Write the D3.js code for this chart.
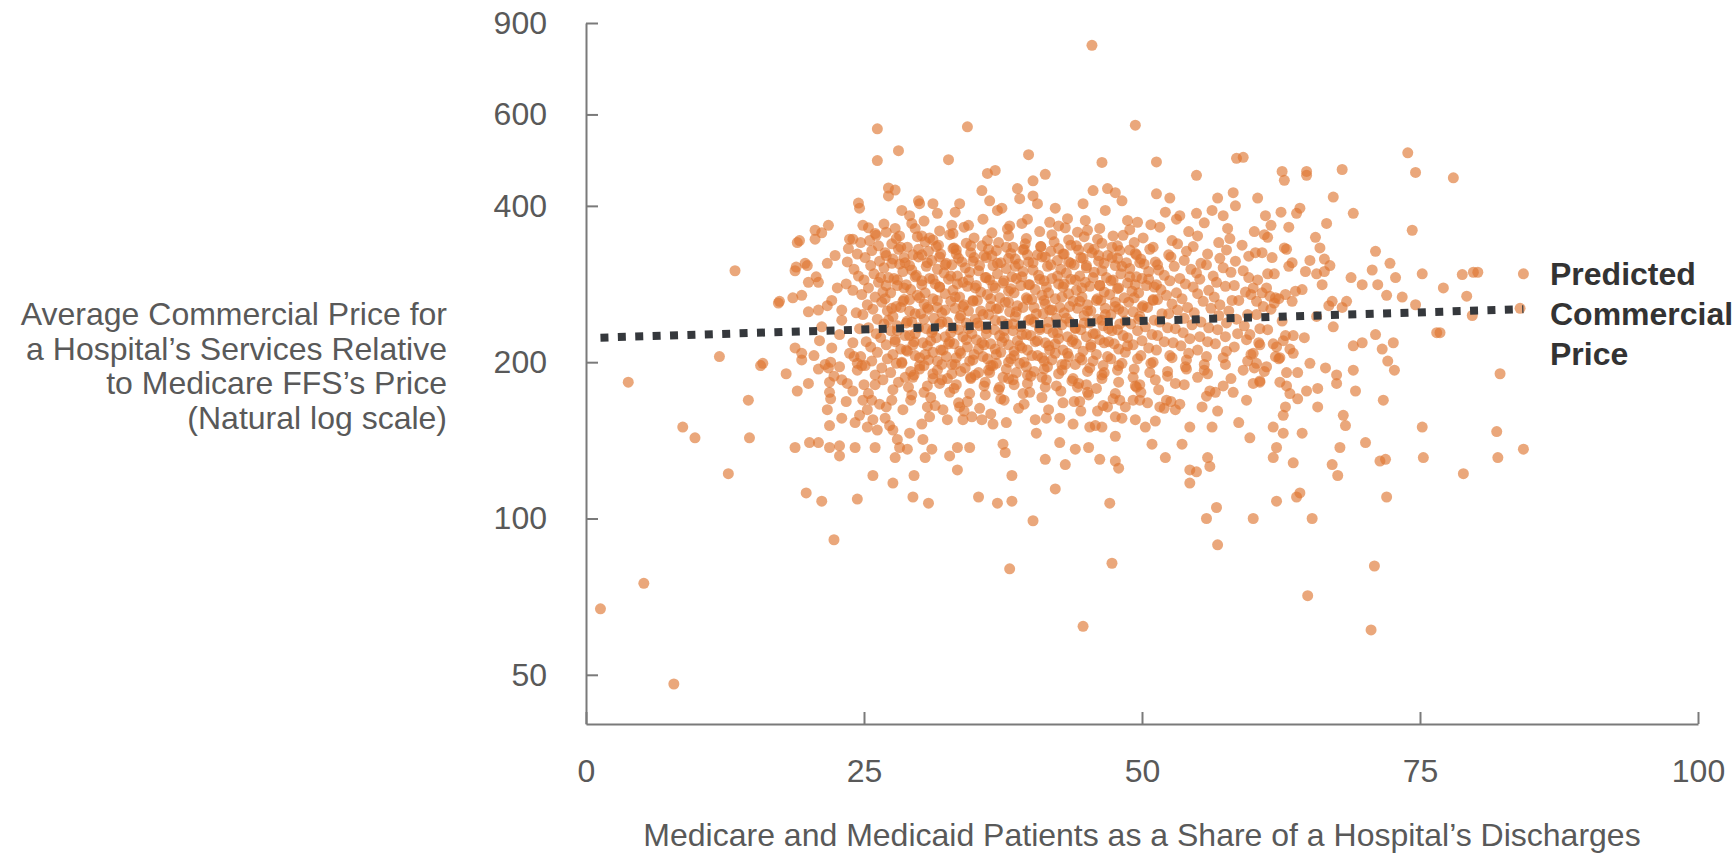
<!DOCTYPE html>
<html><head><meta charset="utf-8">
<script src="https://cdn.jsdelivr.net/npm/d3@7"></script>
<style>
html,body{margin:0;padding:0;background:#fff;}
svg{display:block;}
text{font-family:"Liberation Sans",Arial,Helvetica,sans-serif;}
</style></head><body>
<svg id="chart" width="1734" height="855"></svg>
<script>
// ---- tick labels & text ----
const xTicks = [0, 25, 50, 75, 100];
const yTicks = [50, 100, 200, 400, 600, 900];
const yTitleLines = ["Average Commercial Price for", "a Hospital\u2019s Services Relative", "to Medicare FFS\u2019s Price", "(Natural log scale)"];
const xTitle = "Medicare and Medicaid Patients as a Share of a Hospital\u2019s Discharges";
const trendLabel = ["Predicted", "Commercial", "Price"];
// ---- predicted (fitted) line endpoints: share, price ----
const trendShare = [1.3, 84.3];
const trendPrice = [223, 253];

// ---- hospitals: [share of discharges, price relative to Medicare] ----
const hospitalsTop = [
[45.5,815],[26.2,563],[34.3,568],[49.4,572],[28.1,511],[26.2,489],[32.6,491],[36.1,462],[36.8,468],[35.6,428],[39.8,502],[46.4,485],[51.3,486],[58.5,494],[41.3,460],[40.2,447],[54.9,458],[59.1,496],[73.9,506],[74.6,464],[78.0,453],[68.0,470],[64.8,466],[64.8,458],[62.6,466],[62.8,448],
[27.2,433],[27.8,429],[27.2,418],[24.5,405],[24.6,396],[29.9,409],[30.0,404],[31.2,404],[31.6,387],[33.6,404],[33.2,389],[36.3,409],[37.0,392],[28.4,392],[29.1,383],[29.3,370],[24.9,367],[21.8,367],[21.2,355],[20.6,345],[19.0,340],[26.0,354],[25.5,343],[27.8,362],[28.2,350],[30.2,350],[30.9,347],[33.0,354],[34.4,367],[23.7,345],[23.6,331],[19.9,307],[18.8,300],[22.4,321],[21.7,310],[20.0,285],[20.9,285],[19.4,269],[17.3,260],[22.6,278],[22.1,263],[23.0,252],[20.9,252],
[38.8,432],[39.0,413],[40.2,418],[40.6,404],[45.6,428],[46.9,432],[47.6,424],[48.2,409],[51.3,422],[52.5,414],[56.8,414],[58.2,424],[37.4,396],[42.2,396],[44.7,404],[46.7,392],[52.1,389],[53.4,383],[54.9,387],[56.3,392],[57.3,383],[58.4,400],[48.7,375],[49.6,372],[43.3,378],[41.7,372],[39.7,377],[38.1,366],[45.1,359],[46.2,362],[47.4,350]
];
const hospitalsRight = [
[60.4,414],[67.2,416],[69.0,387],[64.2,396],[63.9,387],[62.5,389],[61.1,383],[61.6,367],[63.2,364],[66.6,370],[60.1,357],[74.3,359],[65.6,348],[66.0,332],[61.3,348],[71.0,327],[63.0,330],[60.8,325],[59.6,320],[63.5,311],[65.1,314],[66.4,316],[66.9,307],[72.3,310],[70.7,301],[75.2,296],[72.8,291],[78.8,295],[79.8,298],[64.7,299],[65.7,296],[66.4,299],[61.3,296],[61.9,296],[68.8,291],[69.8,282],[71.2,282],[72.0,269],[73.4,267],[77.1,278],[79.2,268],[67.1,262],[68.4,262],[74.6,258],[66.2,282],[64.4,276],
[60.8,272],[61.5,268],[62.3,265],[60.3,262],[61.9,260],[62.9,270],[60.0,278],[63.5,262],
[80.2,298],[84.3,296],[79.7,246],[84.0,254],[76.8,228],[82.2,190],[81.9,147],[84.3,136],[78.9,122],[82.0,131],
[76.5,228],[71.0,226],[72.6,218],[71.6,212],[69.0,215],[69.8,218],[72.1,201],[72.7,193],[69.0,193],[69.2,176],[71.7,169],[67.5,189],[67.5,182],[66.5,195],[65.1,199],[65.8,178],[64.8,176],[64.0,170],[63.3,174],[64.0,191],[65.8,164],[62.9,164],[62.7,158],[61.8,150],[62.7,146],[64.4,146],[68.1,158],[68.3,151],[59.7,143],[62.1,137],[61.8,131],[63.6,128],[67.8,137],[70.1,140],[75.2,150],[75.3,131],[71.4,129],[71.9,130],[67.1,127],[67.6,121],[63.9,110],[64.2,112],[62.1,108],[72.0,110],[60.0,100],[65.3,100],
[59.1,193],[60.0,182],[59.4,169],[60.6,183],[62.4,183],[63.0,180],[60.3,199],[61.2,196],[62.4,204],[63.6,208],[62.7,220],[63.6,225],[62.1,214],[60.6,216],[59.7,226],[60.0,208]
];
const hospitalsLow = [
[40.5,146],[42.6,140],[44.0,136],[45.2,137],[46.2,130],[47.6,129],[47.9,125],[41.3,130],[43.1,127],[42.6,156],[43.8,152],[45.3,150],[46.4,150],[47.6,144],[50.9,139],[52.1,131],[53.6,139],[56.3,150],[54.3,150],[54.3,124],[54.9,123],[54.3,117],[55.9,131],[56.1,126],[42.2,114],[38.3,121],[38.3,108],[40.2,99],[47.1,107],[56.7,105],[55.8,100],[37.7,134],[37.5,139],[49.4,155],[50.3,150],[51.2,154],[44.2,179],[45.1,175],[44.4,168],[46.0,161],[46.9,164],[48.0,169],[48.5,164],[49.8,181],[49.8,169],[50.5,167],[51.6,164],[52.2,169],[53.4,166],[55.4,164],[56.8,161],[58.2,175],[56.1,176],
[15.9,199],[18.0,190],[19.0,176],[18.8,213],[19.4,202],[20.9,194],[21.8,195],[22.8,196],[22.1,213],[21.9,183],[23.0,185],[23.5,182],[21.9,175],[21.7,162],[21.9,151],[23.0,156],[23.7,208],[24.4,199],[24.8,197],[24.9,169],[25.3,162],[25.7,169],[26.4,166],[24.2,153],[25.3,150],[25.8,155],[26.2,148],[27.3,151],[27.6,148],[18.8,137],[20.1,140],[20.9,140],[21.9,137],[22.8,138],[22.8,132],[24.2,137],[26.0,137],[28.0,142],[28.2,137],[28.9,136],[29.1,146],[27.8,131],[30.3,142],[31.1,136],[30.5,131],[25.8,121],[27.6,117],[29.5,121],[29.4,110],[30.8,107],[19.8,112],[21.2,108],[24.4,109],[33.4,137],[34.5,137],[32.7,132],[33.4,124],[35.3,110],[37.0,107],[32.1,162],[33.6,164],[32.5,155],[33.9,155],[35.6,155],[36.6,152],[30.7,164]
];
const hospitalsOuter = [
[22.3,91],[38.1,80],[47.3,82],[56.8,89],[44.7,62],[64.9,71],[70.9,81],[70.6,61],
[12.0,205],[15.7,197],[3.8,183],[14.6,169],[8.7,150],[9.8,143],[14.7,143],[12.8,122],[5.2,75],[1.3,67],[7.9,48],[13.4,300],
[17.4,262],[19.2,343],[20.6,359],[18.9,305],[19.7,310],[19.4,208]
];
const hospitalsCore = [
[26.8,369],[30.4,374],[32.9,367],[35.7,377],[39.2,370],[42.5,366],[44.9,375],[50.8,368],[53.1,377],[55.6,371],
[25.4,363],[27.0,356],[29.6,362],[31.8,358],[34.0,364],[36.5,355],[37.9,361],[40.8,357],[43.1,363],[44.2,356],[48.9,360],[51.6,364],[54.2,357],[57.7,362],
[24.0,345],[26.1,351],[27.9,346],[29.8,349],[31.2,344],[32.7,352],[34.9,347],[36.1,343],[38.0,350],[39.6,346],[41.9,352],[43.4,344],[44.8,349],[46.0,345],[48.3,351],[50.1,347],[52.7,343],[55.0,350],[57.9,346],[61.0,352],
[24.7,340],[26.3,335],[27.5,338],[28.9,333],[30.5,341],[31.7,336],[33.1,332],[34.2,339],[35.6,335],[37.1,340],[38.4,333],[39.5,338],[40.9,334],[42.1,341],[43.6,336],[45.2,332],[46.4,339],[47.8,335],[49.3,340],[51.0,333],[53.2,338],[54.6,334],[56.9,340],[59.0,336],[62.8,332],
[24.4,323],[25.7,328],[26.9,325],[28.1,330],[29.4,322],[30.8,327],[31.9,323],[33.3,329],[34.6,325],[35.8,321],[36.9,328],[38.2,324],[39.4,330],[40.6,322],[41.8,327],[43.0,323],[44.3,329],[45.5,325],[46.9,321],[48.0,328],[49.4,324],[50.7,330],[52.4,322],[54.0,327],[55.9,323],[57.6,329],[60.2,325],
[23.5,312],[25.1,318],[26.4,313],[27.6,316],[28.7,311],[29.9,319],[31.1,314],[32.4,310],[33.5,317],[34.8,313],[36.0,318],[37.3,311],[38.6,316],[39.8,312],[41.0,319],[42.4,314],[43.6,310],[44.7,317],[46.1,313],[47.3,318],[48.6,311],[49.9,316],[51.2,312],[52.6,319],[53.8,314],[55.3,310],[57.0,317],[58.4,313],[61.7,318],
[24.1,302],[25.6,307],[26.8,304],[28.2,309],[29.3,301],[30.6,306],[31.6,302],[32.9,308],[34.1,304],[35.3,300],[36.6,307],[37.8,303],[38.9,309],[40.2,301],[41.5,306],[42.7,302],[43.9,308],[45.0,304],[46.4,300],[47.6,307],[48.9,303],[50.2,309],[51.5,301],[52.9,306],[54.4,302],[55.8,308],[57.3,304],[59.1,300],[63.2,306],
[20.7,292],[24.5,293],[25.9,296],[27.2,291],[28.5,299],[29.7,294],[30.9,290],[32.2,297],[33.4,293],[34.5,298],[35.9,291],[37.0,296],[38.3,292],[39.3,299],[40.7,294],[41.9,290],[43.2,297],[44.4,293],[45.7,298],[46.8,291],[48.1,296],[49.5,292],[50.6,299],[52.0,294],[53.4,290],[54.9,297],[56.4,293],[58.0,298],[59.6,291],
[23.4,283],[25.0,288],[26.3,285],[27.7,290],[28.8,282],[30.2,287],[31.4,283],[32.6,289],[33.9,285],[35.1,281],[36.3,288],[37.5,284],[38.7,290],[39.9,282],[41.2,287],[42.5,283],[43.6,289],[44.9,285],[46.2,281],[47.4,288],[48.7,284],[50.0,290],[51.3,282],[52.5,287],[53.9,283],[55.2,289],[56.7,285],[58.3,281],[60.4,288],
[24.0,275],[25.4,278],[26.7,273],[28.0,281],[29.2,276],[30.5,272],[31.8,279],[33.0,275],[34.3,280],[35.5,273],[36.8,278],[38.0,274],[39.1,281],[40.4,276],[41.6,272],[42.9,279],[44.1,275],[45.3,280],[46.6,273],[47.9,278],[49.1,274],[50.4,281],[51.7,276],[53.1,272],[54.6,279],[56.0,275],[57.5,280],[59.3,273],[61.2,278],[63.8,274],
[18.6,266],[24.8,270],[26.0,267],[27.4,272],[28.6,264],[29.8,269],[31.2,265],[32.3,271],[33.6,267],[34.8,263],[36.1,270],[37.2,266],[38.5,272],[39.7,264],[41.0,269],[42.2,265],[43.4,271],[44.6,267],[45.9,263],[47.1,270],[48.4,266],[49.7,272],[51.0,264],[52.2,269],[53.6,265],[55.0,271],[56.5,267],[58.1,263],[59.8,270],[62.0,266],
[21.7,257],[25.3,258],[26.6,261],[27.9,256],[29.1,264],[30.4,259],[31.6,255],[32.8,262],[34.0,258],[35.2,263],[36.4,256],[37.7,261],[38.8,257],[40.1,264],[41.3,259],[42.6,255],[43.8,262],[45.1,258],[46.3,263],[47.6,256],[48.8,261],[50.1,257],[51.4,264],[52.7,259],[54.1,255],[55.5,262],[57.0,258],[58.7,263],[60.9,256],[66.8,257],
[20.0,250],[24.3,249],[25.8,253],[27.1,251],[28.3,255],[29.6,248],[30.8,253],[32.0,249],[33.2,254],[34.4,251],[35.7,247],[36.9,253],[38.1,250],[39.3,255],[40.5,248],[41.7,252],[43.0,249],[44.2,254],[45.4,251],[46.7,247],[47.9,253],[49.2,250],[50.5,255],[51.8,248],[53.2,252],[54.7,249],[56.2,254],[57.8,251],[59.5,247],[61.6,253],[68.0,255],
[23.0,241],[24.9,247],[26.2,242],[27.6,245],[28.9,240],[30.1,248],[31.3,243],[32.5,239],[33.7,246],[35.0,242],[36.2,247],[37.4,240],[38.6,245],[39.8,241],[41.1,248],[42.3,243],[43.5,239],[44.8,246],[46.0,242],[47.2,247],[48.5,240],[49.8,245],[51.1,241],[52.4,248],[53.8,243],[55.3,239],[56.9,246],[58.5,242],[60.3,247],[62.6,240],[65.7,245],
[21.2,234],[25.4,233],[26.8,237],[28.0,235],[29.3,239],[30.6,232],[31.8,237],[33.0,233],[34.2,238],[35.4,235],[36.7,231],[37.9,237],[39.1,234],[40.3,239],[41.5,232],[42.8,236],[44.0,233],[45.3,238],[46.5,235],[47.8,231],[49.0,237],[50.3,234],[51.6,239],[53.0,232],[54.5,236],[56.0,233],[57.6,238],[59.2,235],[61.3,231],[67.2,234],
[22.8,226],[24.6,232],[26.1,227],[27.4,230],[28.7,225],[29.9,233],[31.1,228],[32.3,224],[33.5,231],[34.7,227],[36.0,232],[37.2,225],[38.4,230],[39.6,226],[40.8,233],[42.0,228],[43.3,224],[44.5,231],[45.8,227],[47.0,232],[48.3,225],[49.6,230],[50.9,226],[52.3,233],[53.7,228],[55.2,224],[56.8,231],[58.6,227],[60.6,232],[62.9,225],
[21.0,220],[25.2,219],[26.5,223],[27.8,221],[29.1,225],[30.3,218],[31.5,223],[32.7,219],[33.9,224],[35.1,221],[36.4,217],[37.6,223],[38.8,220],[40.0,225],[41.3,218],[42.5,222],[43.7,219],[45.0,224],[46.2,221],[47.5,217],[48.7,223],[50.0,220],[51.4,225],[52.8,218],[54.3,222],[55.9,219],[57.5,224],[59.4,221],[61.8,217],[64.6,223],
[24.0,218],[25.6,214],[27.0,216],[28.3,212],[29.5,219],[30.7,215],[31.9,211],[33.1,217],[34.3,214],[35.6,218],[36.8,212],[38.0,216],[39.2,213],[40.4,219],[41.6,215],[42.9,211],[44.1,217],[45.4,214],[46.6,218],[47.9,212],[49.2,216],[50.6,213],[52.0,219],[53.5,215],[55.0,211],[56.6,217],[58.3,214],[60.5,218],[63.3,212],
[20.5,206],[24.7,205],[26.2,209],[27.6,207],[28.8,211],[30.0,204],[31.2,209],[32.4,205],[33.6,210],[34.9,207],[36.1,203],[37.3,209],[38.5,206],[39.7,211],[41.0,204],[42.2,208],[43.4,205],[44.7,210],[45.9,207],[47.2,203],[48.5,209],[49.9,206],[51.3,211],[52.7,204],[54.2,208],[55.8,205],[57.6,210],[59.8,207],[62.3,203],
[22.0,200],[24.1,205],[25.7,201],[27.1,203],[28.4,199],[29.6,206],[30.8,202],[32.0,198],[33.3,204],[34.5,201],[35.7,205],[36.9,199],[38.2,203],[39.4,200],[40.6,206],[41.9,202],[43.1,198],[44.4,204],[45.6,201],[46.9,205],[48.2,199],[49.6,203],[51.0,200],[52.5,206],[54.0,202],[55.6,198],[57.3,204],[59.5,201],[62.0,205],
[21.5,198],[25.1,197],[26.6,195],[27.9,199],[29.2,192],[30.4,197],[31.6,193],[32.9,198],[34.1,195],[35.3,191],[36.6,197],[37.8,194],[39.0,199],[40.3,192],[41.5,196],[42.8,193],[44.0,198],[45.3,195],[46.6,191],[47.9,197],[49.3,194],[50.8,199],[52.3,192],[53.9,196],[55.6,193],[57.5,198],[60.1,195],[63.0,191],
[22.3,188],[24.4,193],[26.0,189],[27.4,191],[28.7,187],[30.0,194],[31.2,190],[32.5,186],[33.7,192],[35.0,189],[36.2,193],[37.5,187],[38.7,191],[40.0,188],[41.2,194],[42.5,190],[43.8,186],[45.1,192],[46.4,189],[47.8,193],[49.2,187],[50.7,191],[52.3,188],[54.0,194],[55.9,190],[58.0,186],[61.0,192],
[20.0,182],[25.0,181],[26.7,185],[28.1,183],[29.4,187],[30.7,180],[32.0,185],[33.3,181],[34.6,186],[35.9,183],[37.2,179],[38.4,185],[39.7,182],[41.0,187],[42.3,180],[43.7,184],[45.0,181],[46.4,186],[47.9,183],[49.5,179],[51.2,185],[53.0,182],[55.0,187],[57.3,180],[60.6,184],
[24.0,176],[26.0,181],[27.6,177],[29.0,179],[30.4,175],[31.8,182],[33.1,178],[34.5,174],[35.8,180],[37.1,177],[38.5,181],[39.9,175],[41.3,179],[42.7,176],[44.3,182],[45.9,178],[47.6,174],[49.4,180],[51.5,177],[53.8,181],[56.6,175],
[22.0,170],[25.4,174],[27.5,169],[29.3,173],[31.0,171],[32.7,175],[34.3,168],[35.9,173],[37.6,169],[39.3,174],[41.0,171],[42.9,167],[45.2,173],[47.4,170],[49.9,175],[52.6,168],[55.8,172],
[23.4,168],[27.0,164],[29.2,169],[31.4,165],[33.5,167],[35.4,163],[37.3,170],[39.4,166],[41.6,162],[43.9,168],[46.5,165],[49.2,169],[52.0,163],
[24.6,158],[28.5,162],[30.9,157],[34.0,161],[36.4,159],[38.9,163],[41.4,156],[44.5,161],[47.6,157],[53.0,162],
[26.9,156],[30.2,152],[34.7,157],[37.8,153],[40.4,155],[45.8,151],[48.2,156],[58.7,153]
];
const hospitalsDense = [
[27.0,321],[28.6,318],[30.2,322],[31.8,319],[33.3,323],[34.9,318],[36.5,321],[38.0,317],[39.7,322],[41.3,319],[42.9,323],[44.5,318],[46.1,321],[47.8,317],[49.5,322],
[26.5,291],[28.0,288],[29.6,292],[31.2,289],[32.8,293],[34.4,288],[36.0,291],[37.6,287],[39.2,292],[40.8,289],[42.4,293],[44.0,288],[45.6,291],[47.2,287],[48.9,292],[50.6,289],
[26.9,265],[28.5,262],[30.0,266],[31.6,263],[33.2,267],[34.8,262],[36.4,265],[38.0,261],[39.6,266],[41.2,263],[42.8,267],[44.4,262],[46.0,265],[47.6,261],[49.3,266],[51.0,263],
[27.2,241],[28.8,238],[30.4,242],[32.0,239],[33.6,243],[35.2,238],[36.8,241],[38.4,237],[40.0,242],[41.6,239],[43.2,243],[44.8,238],[46.4,241],[48.0,237],[49.7,242],
[27.8,219],[29.4,216],[31.0,220],[32.6,217],[34.2,221],[35.8,216],[37.4,219],[39.0,215],[40.6,220],[42.2,217],[43.8,221],[45.4,216],[47.0,219],[48.7,215],
[28.4,200],[30.0,197],[31.6,201],[33.2,198],[34.8,202],[36.4,197],[38.0,200],[39.6,196],[41.2,201],[42.8,198],[44.6,202],[46.5,197]
];
const hospitalsDenser = [
[28.3,333],[29.9,330],[31.5,334],[33.0,331],[34.6,335],[36.2,330],[37.8,333],[39.3,329],[40.9,334],[42.5,331],[44.1,335],[45.7,330],[47.3,333],[48.9,329],
[27.5,310],[29.1,307],[30.7,311],[32.3,308],[33.8,312],[35.4,307],[37.0,310],[38.6,306],[40.2,311],[41.8,308],[43.4,312],[45.0,307],[46.6,310],[48.2,306],[49.8,311],[51.4,308],
[27.0,281],[28.6,278],[30.2,282],[31.8,279],[33.4,283],[35.0,278],[36.6,281],[38.2,277],[39.8,282],[41.4,279],[43.0,283],[44.6,278],[46.2,281],[47.8,277],[49.4,282],[51.1,279],
[27.5,254],[29.1,251],[30.7,255],[32.3,252],[33.9,256],[35.5,251],[37.1,254],[38.7,250],[40.3,255],[41.9,252],[43.5,256],[45.1,251],[46.7,254],[48.3,250],[50.0,255],
[28.0,230],[29.6,227],[31.2,231],[32.8,228],[34.4,232],[36.0,227],[37.6,230],[39.2,226],[40.8,231],[42.4,228],[44.0,232],[45.6,227],[47.3,230],
[28.9,210],[30.5,207],[32.1,211],[33.7,208],[35.3,212],[36.9,207],[38.5,210],[40.1,206],[41.7,211],[43.3,208],
[29.5,189],[31.2,186],[32.9,190],[34.6,187],[36.3,191],[38.0,186],[39.7,189],[41.4,185]
];

const svg = d3.select("#chart");
const x = d3.scaleLinear().domain([0, 100]).range([586, 1698]);
const y = d3.scaleLog().domain([40.2, 900]).range([724, 23]);
const textColor = "#595959";
const axisColor = "#7a7a7a";

const hospitals = [].concat(hospitalsCore, hospitalsDense, hospitalsDenser, hospitalsTop, hospitalsRight, hospitalsLow, hospitalsOuter);

svg.append("g").attr("class", "points")
  .selectAll("circle").data(hospitals).join("circle")
  .attr("cx", d => x(d[0]))
  .attr("cy", d => y(d[1]))
  .attr("r", 5.5)
  .attr("fill", "#DE7630")
  .attr("fill-opacity", 0.64);

// axes
const xAxis = d3.axisBottom(x).tickValues(xTicks).tickFormat(d3.format("d"))
  .tickSizeInner(-12).tickSizeOuter(0).tickPadding(35);
const yAxis = d3.axisLeft(y).tickValues(yTicks).tickFormat(d3.format("d"))
  .tickSizeInner(-12).tickSizeOuter(0).tickPadding(39);

function styleAxis(g) {
  g.attr("font-size", null).attr("font-family", null);
  g.select(".domain").attr("stroke", axisColor).attr("stroke-width", 2);
  g.selectAll(".tick line").attr("stroke", axisColor).attr("stroke-width", 2);
  g.selectAll(".tick text").attr("fill", textColor).style("font-size", "32px")
    .style("font-family", "'Liberation Sans', Arial, sans-serif");
}
svg.append("g").attr("transform", "translate(0,724)").call(xAxis).call(styleAxis);
svg.append("g").attr("transform", "translate(586,0)").call(yAxis).call(styleAxis);

// predicted line
const trend = trendShare.map((s, i) => [s, trendPrice[i]]);
svg.append("path").datum(trend)
  .attr("d", d3.line().x(d => x(d[0])).y(d => y(d[1])))
  .attr("fill", "none").attr("stroke", "#35383c")
  .attr("stroke-width", 8).attr("stroke-dasharray", "8 9.4");

// y-axis title
svg.append("g").selectAll("text").data(yTitleLines).join("text")
  .attr("x", 447).attr("y", (d, i) => 325 + i * 34.5)
  .attr("text-anchor", "end").attr("fill", textColor)
  .style("font-size", "32px").text(d => d);

// x-axis title
svg.append("text").attr("x", 1142).attr("y", 846)
  .attr("text-anchor", "middle").attr("fill", textColor)
  .style("font-size", "32px").text(xTitle);

// line label
svg.append("g").selectAll("text").data(trendLabel).join("text")
  .attr("x", 1550).attr("y", (d, i) => 285 + i * 40)
  .attr("fill", "#333").style("font-size", "32px").style("font-weight", "bold")
  .text(d => d);
</script>
</body></html>
